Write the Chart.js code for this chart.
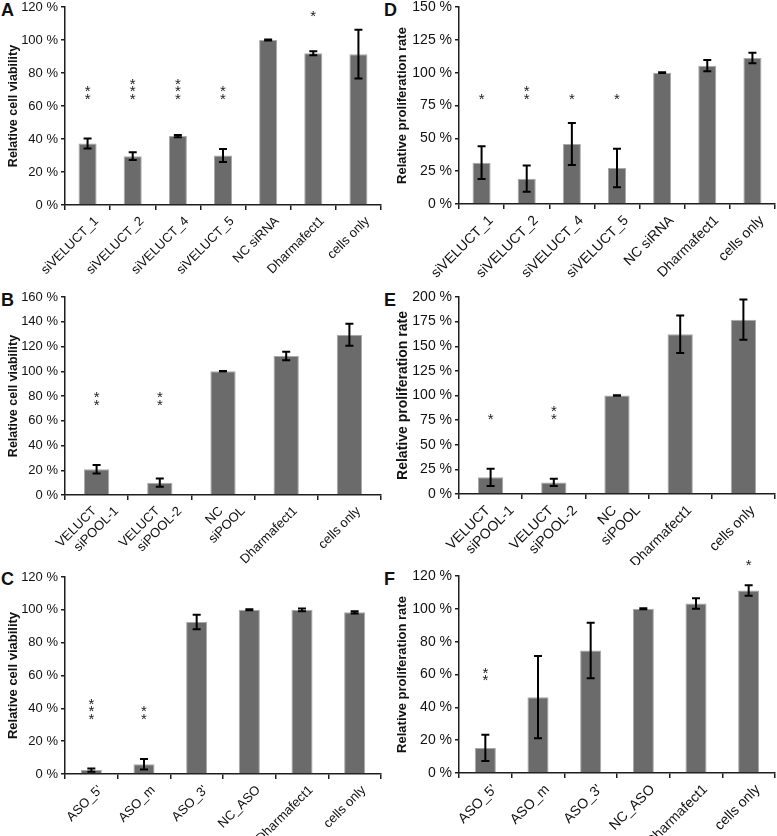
<!DOCTYPE html>
<html>
<head>
<meta charset="utf-8">
<script src="https://cdn.jsdelivr.net/npm/chart.js@4.4.1/dist/chart.umd.min.js"></script>
<style>
    body { margin: 0; background: #fff; width: 777px; height: 836px; position: relative; overflow: hidden;
           font-family: "Liberation Sans", Arial, sans-serif; }
    canvas { position: absolute; }
    .panel-letter { position: absolute; font-weight: bold; font-size: 18px; line-height: 18px; color: #111; }
</style>
</head>
<body>
<div class="panel-letter" style="left:1px;top:1px">A</div>
<div class="panel-letter" style="left:384px;top:1px">D</div>
<div class="panel-letter" style="left:1px;top:291px">B</div>
<div class="panel-letter" style="left:384px;top:291px">E</div>
<div class="panel-letter" style="left:1px;top:570px">C</div>
<div class="panel-letter" style="left:384px;top:570px">F</div>

<canvas id="chartA"></canvas>
<canvas id="chartD"></canvas>
<canvas id="chartB"></canvas>
<canvas id="chartE"></canvas>
<canvas id="chartC"></canvas>
<canvas id="chartF"></canvas>

<script>
// ---- Data ----
const labelsSi = ['siVELUCT_1', 'siVELUCT_2', 'siVELUCT_4', 'siVELUCT_5', 'NC siRNA', 'Dharmafect1', 'cells only'];
const labelsPool = [['VELUCT', 'siPOOL-1'], ['VELUCT', 'siPOOL-2'], ['NC', 'siPOOL'], 'Dharmafect1', 'cells only'];
const labelsAso = ["ASO_5'", 'ASO_m', "ASO_3'", 'NC_ASO', 'Dharmafect1', 'cells only'];

// A: viability, siRNA
const valuesA = [37.3, 29.6, 41.8, 30.0, 100, 92.0, 91.4];
const errorsA = [3.0, 2.4, 0.7, 4.0, 0.3, 1.2, 14.8];
const starsA = [2, 3, 3, 2, 0, 1, 0];
const starLevelA = [65.6, 65.6, 65.6, 65.6, null, 115.8, null];

// D: proliferation, siRNA
const valuesD = [31.5, 19.3, 45.7, 27.4, 100, 105.3, 111.2];
const errorsD = [12.4, 10.0, 16.0, 14.7, 0.3, 4.3, 4.0];
const starsD = [1, 2, 1, 1, 0, 0, 0];
const starLevelD = [81.7, 81.7, 81.7, 81.7, null, null, null];

// B: viability, siPOOL
const valuesB = [20.8, 10.0, 100, 112.3, 129.5];
const errorsB = [3.5, 3.4, 0.3, 3.4, 8.9];
const starsB = [2, 2, 0, 0, 0];
const starLevelB = [74.6, 74.6, null, null, null];

// E: proliferation, siPOOL
const valuesE = [16.9, 11.8, 100, 162.2, 177.0];
const errorsE = [8.8, 3.7, 0.3, 19.0, 20.4];
const starsE = [1, 2, 0, 0, 0];
const starLevelE = [78.5, 78.5, null, null, null];

// C: viability, ASO
const valuesC = [2.4, 5.9, 92.6, 100, 100, 98.5];
const errorsC = [1.0, 3.2, 4.4, 0.3, 0.8, 0.7];
const starsC = [3, 2, 0, 0, 0, 0];
const starLevelC = [34.9, 34.9, null, null, null, null];

// F: proliferation, ASO
const valuesF = [15.3, 46.2, 74.6, 100, 103.3, 111.2];
const errorsF = [8.0, 25.0, 16.9, 0.3, 3.2, 3.2];
const starsF = [2, 0, 0, 0, 0, 1];
const starLevelF = [57.7, null, null, null, null, 128];

const FONT = '"Liberation Sans", Arial, sans-serif';
const AXIS_COLOR = '#1e1e1e';

// Error bars, significance stars and the slanted category labels
function makeOverlay(errors, stars, starLevel, fontSize) {
    return {
        id: 'overlay',
        afterDatasetsDraw(chart) {
            const ctx = chart.ctx;
            const y = chart.scales.y;
            const bars = chart.getDatasetMeta(0).data;
            const values = chart.data.datasets[0].data;

            ctx.save();
            ctx.strokeStyle = '#000';
            ctx.lineWidth = 2;
            bars.forEach((bar, i) => {
                const top = y.getPixelForValue(values[i] + errors[i]);
                const bot = y.getPixelForValue(values[i] - errors[i]);
                ctx.beginPath();
                ctx.moveTo(bar.x, top); ctx.lineTo(bar.x, bot);
                ctx.moveTo(bar.x - 4, top); ctx.lineTo(bar.x + 4, top);
                ctx.moveTo(bar.x - 4, bot); ctx.lineTo(bar.x + 4, bot);
                ctx.stroke();
            });

            // stars, stacked upwards from the given level
            ctx.fillStyle = '#222';
            ctx.font = '15px ' + FONT;
            ctx.textAlign = 'center';
            ctx.textBaseline = 'alphabetic';
            const m = ctx.measureText('*');
            const shift = (m.actualBoundingBoxAscent - m.actualBoundingBoxDescent) / 2;
            bars.forEach((bar, i) => {
                if (!stars[i]) return;
                const base = y.getPixelForValue(starLevel[i]);
                for (let k = 0; k < stars[i]; k++) {
                    ctx.fillText('*', bar.x, base - k * 7.3 + shift);
                }
            });
            ctx.restore();
        },
        afterDraw(chart) {
            // labels at 45 deg, text end just right of the tick, lines ending on one height
            const ctx = chart.ctx;
            const x = chart.scales.x;
            const axisY = chart.chartArea.bottom;
            const capH = fontSize * 0.716;
            const step = fontSize * 1.2 * Math.SQRT2;

            ctx.save();
            ctx.font = fontSize + 'px ' + FONT;
            ctx.fillStyle = '#111';
            ctx.textAlign = 'right';
            ctx.textBaseline = 'alphabetic';
            chart.data.labels.forEach((label, i) => {
                const lines = Array.isArray(label) ? label : [label];
                const tx = x.getPixelForTick(i);
                lines.forEach((line, j) => {
                    const ax = tx + 5 + (j - (lines.length - 1) / 2) * step;
                    ctx.save();
                    ctx.translate(ax, axisY + 10);
                    ctx.rotate(-Math.PI / 4);
                    ctx.fillText(line, 0, capH);
                    ctx.restore();
                });
            });
            ctx.restore();
        }
    };
}

function makePanel(p) {
    const canvas = document.getElementById(p.id);
    const [bx, by, bw, bh] = p.box;
    const [pl, pt, pr, pb] = p.plot;
    canvas.width = bw;
    canvas.height = bh;
    canvas.style.left = bx + 'px';
    canvas.style.top = by + 'px';
    canvas.style.width = bw + 'px';
    canvas.style.height = bh + 'px';

    return new Chart(canvas.getContext('2d'), {
        type: 'bar',
        data: {
            labels: p.labels,
            datasets: [{
                data: p.values,
                backgroundColor: '#6b6b6b',
                borderColor: '#a9a9a9',
                borderWidth: 1,
                barPercentage: 0.4,
                categoryPercentage: 1
            }]
        },
        options: {
            responsive: false,
            animation: false,
            events: [],
            layout: { padding: { left: 0, top: pt - by, right: bx + bw - pr, bottom: 0 } },
            plugins: { legend: { display: false }, tooltip: { enabled: false } },
            scales: {
                x: {
                    grid: { display: true, offset: true, drawOnChartArea: false, tickLength: 5,
                            color: AXIS_COLOR, lineWidth: 1.5 },
                    border: { display: true, color: AXIS_COLOR, width: 1.5 },
                    ticks: { display: false },
                    afterFit: s => { s.height = by + bh - pb; s.paddingLeft = 0; s.paddingRight = 0; }
                },
                y: {
                    min: 0,
                    max: p.max,
                    grid: { display: true, drawOnChartArea: false, tickLength: 4,
                            color: AXIS_COLOR, lineWidth: 1.5 },
                    border: { display: true, color: AXIS_COLOR, width: 1.5 },
                    ticks: { stepSize: p.step, callback: v => v + ' %', color: '#111',
                             font: { family: FONT, size: p.tickSize }, padding: 3 },
                    title: { display: true, text: p.title, color: '#111',
                             font: { family: FONT, size: p.titleSize, weight: 'bold' },
                             padding: { top: 6, bottom: 0 } },
                    afterFit: s => { s.width = pl - bx; s.paddingTop = 0; s.paddingBottom = 0; }
                }
            }
        },
        plugins: [makeOverlay(p.errors, p.stars, p.starLevel, p.tickSize)]
    });
}

makePanel({ id: 'chartA', box: [0, 0, 389, 280], plot: [65, 7, 381, 205],
    labels: labelsSi, values: valuesA, errors: errorsA, stars: starsA, starLevel: starLevelA,
    max: 120, step: 20, title: 'Relative cell viability', tickSize: 13, titleSize: 12.5 });

makePanel({ id: 'chartD', box: [389, 0, 388, 280], plot: [459, 7, 775, 204],
    labels: labelsSi, values: valuesD, errors: errorsD, stars: starsD, starLevel: starLevelD,
    max: 150, step: 25, title: 'Relative proliferation rate', tickSize: 14, titleSize: 13 });

makePanel({ id: 'chartB', box: [0, 280, 389, 285], plot: [65, 297, 381, 495],
    labels: labelsPool, values: valuesB, errors: errorsB, stars: starsB, starLevel: starLevelB,
    max: 160, step: 20, title: 'Relative cell viability', tickSize: 13, titleSize: 12.5 });

makePanel({ id: 'chartE', box: [389, 280, 388, 285], plot: [459, 297, 775, 494],
    labels: labelsPool, values: valuesE, errors: errorsE, stars: starsE, starLevel: starLevelE,
    max: 200, step: 25, title: 'Relative proliferation rate', tickSize: 14, titleSize: 14 });

makePanel({ id: 'chartC', box: [0, 552, 389, 284], plot: [65, 577, 381, 774],
    labels: labelsAso, values: valuesC, errors: errorsC, stars: starsC, starLevel: starLevelC,
    max: 120, step: 20, title: 'Relative cell viability', tickSize: 13, titleSize: 13 });

makePanel({ id: 'chartF', box: [389, 552, 388, 284], plot: [459, 576, 775, 773],
    labels: labelsAso, values: valuesF, errors: errorsF, stars: starsF, starLevel: starLevelF,
    max: 120, step: 20, title: 'Relative proliferation rate', tickSize: 14, titleSize: 13 });
</script>
</body>
</html>
